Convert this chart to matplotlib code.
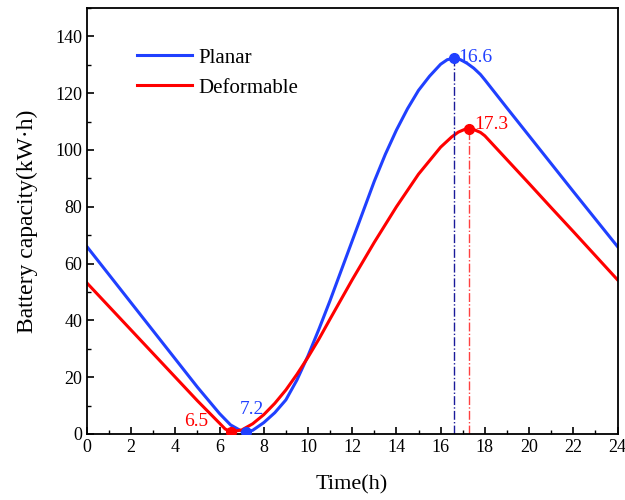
import matplotlib
matplotlib.use("Agg")
import matplotlib.pyplot as plt
from matplotlib.ticker import MultipleLocator

plt.rcParams['font.family'] = 'serif'
plt.rcParams['font.serif'] = ['Liberation Serif', 'Times New Roman', 'DejaVu Serif']

planar_x = [0, 1, 2, 3, 4, 5, 6, 6.5, 7, 7.2, 7.5, 8, 8.5, 9, 9.5, 10, 10.5, 11, 11.5, 12,
            12.5, 13, 13.5, 14, 14.5, 15, 15.5, 16, 16.3, 16.6, 16.9, 17.2, 17.5, 17.8,
            18, 19, 20, 21, 22, 23, 24]
planar_y = [66, 56.1, 46.2, 36.3, 26.4, 16.5, 7.2, 3.2, 1.0, 0.8, 1.3, 4.0, 7.5, 12, 19, 27.5,
            37, 47, 57.5, 68, 78.5, 89, 98.5, 107, 114.5, 121, 126, 130.2, 131.8, 132.3,
            131.8, 130.5, 128.8, 126.6, 124.7, 114.8, 105, 95.2, 85.4, 75.7, 66]

deform_x = [0, 1, 2, 3, 4, 5, 6, 6.25, 6.5, 7, 7.5, 8, 8.5, 9, 9.5, 10, 10.5, 11, 12, 13, 14,
            15, 16, 16.5, 16.8, 17.1, 17.3, 17.5, 17.8, 18, 19, 20, 21, 22, 23, 24]
deform_y = [53.2, 44.9, 36.6, 28.3, 20, 11.7, 3.8, 1.8, 0.8, 1.4, 3.6, 6.8, 10.8, 15.5, 21, 27,
            33.5, 40.5, 54.3, 67.5, 80, 91.5, 101, 104.6, 106.3, 107.3, 107.5, 107.2, 106.2,
            105, 96.6, 88.2, 79.7, 71.3, 62.8, 54.3]

planar_min = (7.2, 0.8)
planar_max = (16.6, 132.3)
deform_min = (6.5, 0.8)
deform_max = (17.3, 107.5)

blue = '#2040ff'
red = '#ff0000'

fig = plt.figure(figsize=(6.25, 5), dpi=100)
ax = fig.add_axes([0.139, 0.132, 0.849, 0.852])

ax.plot(planar_x, planar_y, color=blue, lw=2.2, label='Planar')
ax.plot(deform_x, deform_y, color=red, lw=2.2, label='Deformable')

ax.vlines(planar_max[0], 0, planar_max[1], colors='#1a1a9a', linestyles='-.', lw=1)
ax.vlines(deform_max[0], 0, deform_max[1], colors='#ff4040', linestyles='-.', lw=1)

for (px, py), c in [(planar_min, blue), (planar_max, blue), (deform_min, red), (deform_max, red)]:
    ax.plot(px, py, 'o', color=c, ms=7, zorder=5)

ax.text(planar_max[0] + 0.2, planar_max[1] + 0.3, '16.6', color=blue, fontsize=14, va='center')
ax.text(deform_max[0] + 0.2, deform_max[1] + 1.5, '17.3', color=red, fontsize=14, va='center')
ax.text(planar_min[0] - 0.3, planar_min[1] + 5, '7.2', color=blue, fontsize=14, va='bottom')
ax.text(deform_min[0] - 1.0, deform_min[1] + 3.5, '6.5', color=red, fontsize=14, va='center', ha='right')

ax.set_xlim(0, 24)
ax.set_ylim(0, 150)
ax.xaxis.set_major_locator(MultipleLocator(2))
ax.xaxis.set_minor_locator(MultipleLocator(1))
ax.yaxis.set_major_locator(MultipleLocator(20))
ax.yaxis.set_minor_locator(MultipleLocator(10))
ax.tick_params(which='both', direction='in', top=False, right=False, labelsize=13)
ax.tick_params(which='major', length=5, width=1.2)
ax.tick_params(which='minor', length=3, width=1.0)
for s in ax.spines.values():
    s.set_linewidth(1.3)

ax.set_xlabel('Time(h)', fontsize=16, labelpad=14)
ax.set_ylabel('Battery capacity(kW·h)', fontsize=17, labelpad=12)

ax.legend(loc='upper left', bbox_to_anchor=(0.06, 0.95), frameon=False, fontsize=15,
          handlelength=2.6, handletextpad=0.3, labelspacing=0.5)

fig.savefig('out.png', dpi=100)
